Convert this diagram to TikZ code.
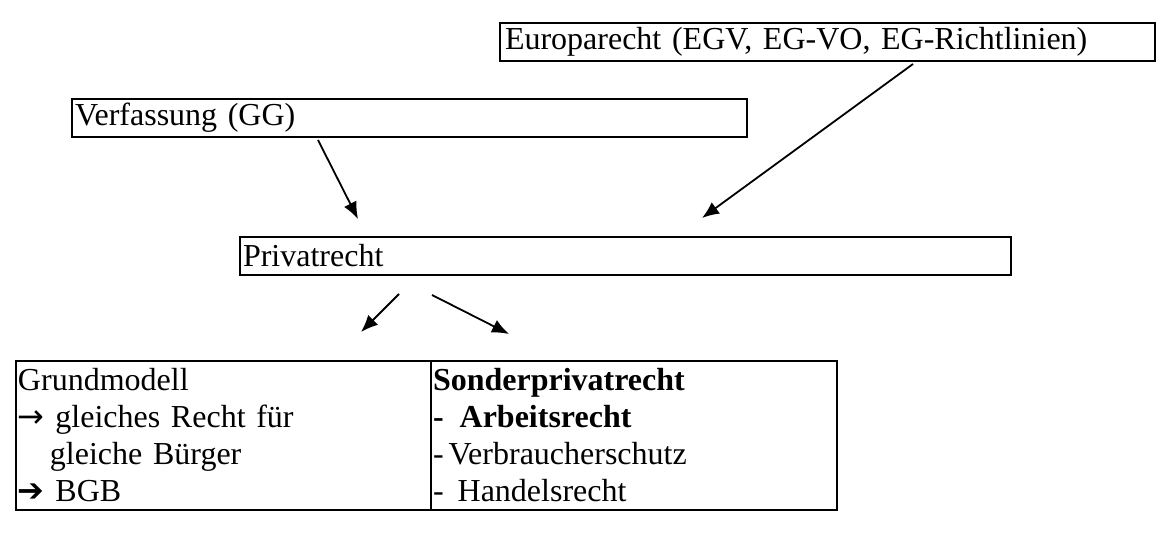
\documentclass[tikz,border=0pt]{standalone}
\usepackage{fontspec}
\setmainfont{Liberation Serif}
\newfontfamily\arrowfont{DejaVu Sans}
\usetikzlibrary{arrows.meta}

\tikzset{
  box/.style={draw, line width=1pt, rectangle, align=left, inner xsep=1.5pt,
    inner ysep=0pt, minimum height=19pt, font=\fontsize{16pt}{18.5pt}\selectfont},
  arr/.style={-{Latex[length=8.5pt,width=7pt]}, line width=0.9pt},
}

\begin{document}
\begin{tikzpicture}[x=0.5pt,y=-0.5pt]
    \useasboundingbox (0,0) rectangle (1172,534);

    \node[box, text width=322.5pt, inner xsep=2.5pt] (euro) at (827.5,42) {Europarecht (EGV, EG-VO, EG-Richtlinien)};
    \node[box, text width=334.5pt] (verf) at (409.5,118) {Verfassung (GG)};
    \node[box, text width=382.5pt] (privat) at (625.5,256) {Privatrecht};

    \node[box, text width=205.5pt, inner xsep=1pt, minimum height=74.5pt] (grund) at (223.5,435.5)
        {Grundmodell\\
         {\arrowfont →} gleiches Recht für\\
         \hspace*{16pt}gleiche Bürger\\
         {\arrowfont\bfseries ➔} BGB};
    \node[box, text width=201pt, inner xsep=1pt, minimum height=74.5pt] (sonder) at (634,435.5)
        {\textbf{Sonderprivatrecht}\\
         \textbf{-}\hspace*{8pt}\textbf{Arbeitsrecht}\\
         -\hspace*{2.5pt}Verbraucherschutz\\
         -\hspace*{7pt}Handelsrecht};

    % arrow ends floating between the boxes
    \coordinate (verf-from) at (318,140);
    \coordinate (verf-to) at (358,219);
    \coordinate (euro-from) at (913,64);
    \coordinate (euro-to) at (702,218);
    \coordinate (privat-l) at (399,294);
    \coordinate (grund-to) at (361,332);
    \coordinate (privat-r) at (432,295);
    \coordinate (sonder-to) at (509,334);

    \draw[arr] (verf-from) -- (verf-to);
    \draw[arr] (euro-from) -- (euro-to);
    \draw[arr] (privat-l) -- (grund-to);
    \draw[arr] (privat-r) -- (sonder-to);
\end{tikzpicture}
\end{document}
